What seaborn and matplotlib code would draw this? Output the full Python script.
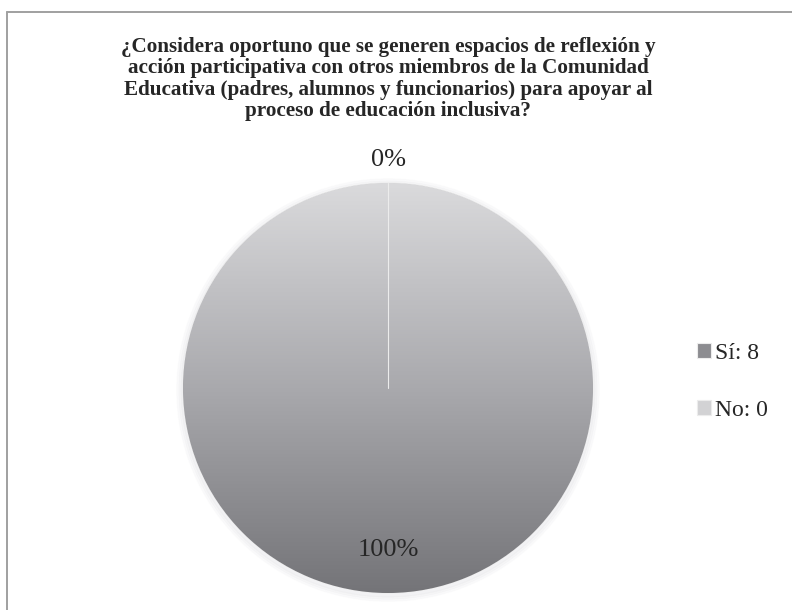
import matplotlib
matplotlib.use("Agg")
import matplotlib.pyplot as plt
import numpy as np
import seaborn as sns
from matplotlib.colors import LinearSegmentedColormap
from matplotlib.lines import Line2D

# data
categories = ["Sí", "No"]
counts = [8, 0]
pct_labels = ["100%", "0%"]
title = ("¿Considera oportuno que se generen espacios de reflexión y\n"
         "acción participativa con otros miembros de la Comunidad\n"
         "Educativa (padres, alumnos y funcionarios) para apoyar al\n"
         "proceso de educación inclusiva?")

sns.set_theme(style="white")
plt.rcParams['font.family'] = ['Liberation Serif', 'DejaVu Serif']

W, H = 792, 610
fig = plt.figure(figsize=(W / 100, H / 100), dpi=100)
fig.patch.set_facecolor("white")

# outer frame (only left and top visible)
fig.add_artist(Line2D([6.5 / W, 6.5 / W], [0, 1 - 11.5 / H], color="#a0a0a0", lw=1.4, transform=fig.transFigure))
fig.add_artist(Line2D([6.5 / W, 1], [1 - 11.5 / H, 1 - 11.5 / H], color="#a0a0a0", lw=1.4, transform=fig.transFigure))

fig.text(388 / W, 1 - 79 / H, title, ha="center", va="center", fontsize=15.2,
         fontweight="bold", color="#262626", linespacing=1.08)

cx, cy, r = 388, 388, 205
ax = fig.add_axes([(cx - r) / W, 1 - (cy + r) / H, 2 * r / W, 2 * r / H])
colors = ["#8c8c90", "#d2d2d4"]
legend_labels = [f"{c}: {n}" for c, n in zip(categories, counts)]
wedges, _ = ax.pie(counts, colors=colors, startangle=90, counterclock=False,
                   labels=legend_labels, labeldistance=None,
                   wedgeprops=dict(edgecolor="#ececec", linewidth=0.8))

# soft shadow
for k, a in [(1.03, 0.04), (1.02, 0.05), (1.01, 0.06)]:
    ax.add_patch(plt.Circle((0, -0.01), k, color="#b0b0b8", alpha=a, zorder=0, clip_on=False))

# vertical gradient fill clipped to the full wedge (light top, dark bottom)
grad = np.linspace(0, 1, 256).reshape(-1, 1)
cmap = LinearSegmentedColormap.from_list("g", ["#dadadc", "#a9a9ad", "#747478"])
im = ax.imshow(grad, extent=(-1, 1, -1, 1), origin="upper", cmap=cmap, aspect="auto", zorder=1)
im.set_clip_path(wedges[0])
ax.plot([0, 0], [0, 1], color="#ececec", lw=0.8, zorder=2)
ax.set_xlim(-1, 1)
ax.set_ylim(-1, 1)
ax.set_aspect("auto")

# percent labels
ax.text(0, -0.79, pct_labels[0], ha="center", va="center", fontsize=19, color="#262626", zorder=3)
ax.text(0, 1.11, pct_labels[1], ha="center", va="center", fontsize=19, color="#262626", zorder=3, clip_on=False)

leg = fig.legend(wedges, legend_labels, loc="center left", bbox_to_anchor=(676 / W, 1 - 382 / H),
                 frameon=False, fontsize=17, handlelength=0.6, handleheight=0.6,
                 handletextpad=0.15, labelspacing=1.5, labelcolor="#262626")

fig.savefig("out.png", dpi=100)
